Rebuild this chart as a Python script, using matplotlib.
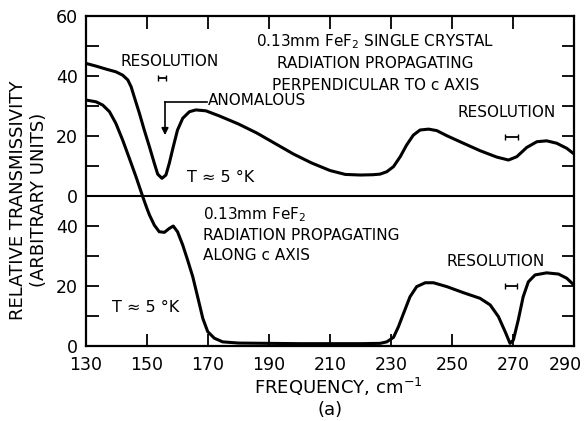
import numpy as np
import matplotlib.pyplot as plt
import matplotlib.transforms as mtransforms

plt.rcParams['font.family'] = ['DejaVu Sans']

# perpendicular to c axis (upper panel, its own units)
f_perp = [130, 133.3, 136.6, 139.8, 142, 143.7, 144.8, 145.8, 147.5, 149.1,
          150.8, 152.4, 153.5, 154.9, 156.2, 157.3, 158.6, 160, 161.7, 163.9,
          166, 169.3, 173.7, 180, 186, 192, 198, 204, 210, 215, 220, 224,
          226.4, 228.6, 230.8, 233, 235.1, 237.3, 239.5, 242.3, 245, 248.3,
          253.7, 259.2, 264.6, 268.5, 271.2, 274.5, 277.8, 281, 284.3, 287.6,
          290]
t_perp = [44.2, 43.3, 42.3, 41.4, 40.3, 38.7, 36.4, 33.1, 27.6, 22,
          16.4, 10.9, 7.3, 5.9, 7, 10.9, 16.4, 22, 25.9, 28.1,
          28.7, 28.4, 26.7, 24, 21, 17.5, 14, 11, 8.5, 7.2, 7, 7.1,
          7.3, 8.1, 9.8, 13.1, 17, 20.3, 22, 22.3, 21.8, 20.1,
          17.6, 15.1, 13, 12, 13.1, 16.2, 18.1, 18.4, 17.6, 15.9,
          14]

# along c axis (lower panel, its own units)
f_par = [130, 133.3, 135.5, 137.7, 139.8, 142, 144.2, 146.4, 147.6, 148.8,
         150, 150.8, 152.4, 154, 155.7, 157.3, 158.6, 160, 161.7, 163.3, 165,
         166.6, 168.3, 169.9, 172.1, 174.8, 180, 200, 220, 226.4, 228.6,
         230.8, 232.4, 234.1, 236.2, 238.4, 241.2, 243.9, 248.3, 253.7, 259.2,
         262.5, 265.2, 267.4, 269, 270.1, 271.7, 273.3, 275, 277.2, 281,
         284.9, 287.6, 290]
t_par = [82, 81.4, 80.3, 78.1, 74.2, 68.7, 62.6, 56.4, 52.8, 49.2,
         45.8, 43.7, 40.3, 38.1, 37.9, 39.2, 40, 38.1, 33.7, 28.7, 23.1,
         16.4, 9.2, 4.8, 2.6, 1.4, 1, 0.8, 0.8, 0.9, 1.4,
         2.9, 6.4, 10.9, 16.4, 19.8, 21.1, 21.1, 19.8, 17.8, 15.9,
         13.7, 9.8, 4.8, 0.9, 2, 8.7, 16.4, 21.4, 23.7, 24.4,
         24, 22.6, 20.3]

offset = 50  # upper panel zero sits at 50 on the shared axis

fig = plt.figure(figsize=(5.87, 4.21), dpi=100)
ax = fig.add_axes([0.1465, 0.178, 0.8315, 0.784])

ax.plot(f_perp, np.array(t_perp) + offset, color='k', lw=2.2, solid_joinstyle='round')
ax.plot(f_par, t_par, color='k', lw=2.2, solid_joinstyle='round')
ax.axhline(offset, color='k', lw=1.5)

ax.set_xlim(130, 290)
ax.set_ylim(0, 110)
ax.set_xticks(np.arange(130, 291, 20))
ax.set_xticklabels([str(v) for v in range(130, 291, 20)])
yt = np.arange(0, 111, 10)
ylab = {0: '0', 20: '20', 40: '40', 50: '0', 70: '20', 90: '40', 110: '60'}
ax.set_yticks(yt)
ax.set_yticklabels([ylab.get(int(v), '') for v in yt])
ax.tick_params(direction='in', length=9, width=1.3, labelsize=12.5,
               top=True, right=True)
ax.tick_params(axis='x', pad=7)
ax.tick_params(axis='y', pad=6)
for s in ax.spines.values():
    s.set_linewidth(1.6)

# last x label sits a bit left so it stays inside the figure
last = ax.get_xticklabels()[-1]
last.set_transform(last.get_transform() +
                   mtransforms.ScaledTranslation(-6 / 72, 0, fig.dpi_scale_trans))

# annotations, upper panel
ax.text(157.5, 94.7, 'RESOLUTION', fontsize=11, ha='center', va='center')
ax.errorbar(154.9, 89.3, xerr=1.2, fmt='none', ecolor='k', capsize=2.5, lw=1.3)
ax.text(224.8, 101.3, '0.13mm FeF$_2$ SINGLE CRYSTAL', fontsize=11, ha='center', va='center')
ax.text(224.8, 94.3, 'RADIATION PROPAGATING', fontsize=11, ha='center', va='center')
ax.text(224.8, 87.0, 'PERPENDICULAR TO c AXIS', fontsize=11, ha='center', va='center')
ax.text(170, 82, 'ANOMALOUS', fontsize=11, ha='left', va='center')
ax.plot([155.9, 169.7], [81.4, 81.4], color='k', lw=1.2)
ax.annotate('', xy=(155.9, 70.3), xytext=(155.9, 81.4),
            arrowprops=dict(arrowstyle='-|>', lw=1.2, color='k', shrinkA=0, shrinkB=0))
ax.text(174, 56.3, 'T ≈ 5 °K', fontsize=11.5, ha='center', va='center')
ax.text(268, 77.7, 'RESOLUTION', fontsize=11, ha='center', va='center')
ax.errorbar(269.5, 69.7, xerr=2.0, fmt='none', ecolor='k', capsize=2.5, lw=1.3)

# annotations, lower panel
ax.text(168.5, 43.7, '0.13mm FeF$_2$', fontsize=11, ha='left', va='center')
ax.text(168.5, 37.0, 'RADIATION PROPAGATING', fontsize=11, ha='left', va='center')
ax.text(168.5, 30.3, 'ALONG c AXIS', fontsize=11, ha='left', va='center')
ax.text(149.7, 12.7, 'T ≈ 5 °K', fontsize=11.5, ha='center', va='center')
ax.text(264.4, 28.3, 'RESOLUTION', fontsize=11, ha='center', va='center')
ax.errorbar(269.3, 20, xerr=2.0, fmt='none', ecolor='k', capsize=2.5, lw=1.3)

fig.text(0.048, 0.525, 'RELATIVE TRANSMISSIVITY\n(ARBITRARY UNITS)', rotation=90,
         fontsize=13, ha='center', va='center', multialignment='center')
fig.text(338 / 587, 1 - 387 / 421, 'FREQUENCY, cm$^{-1}$', fontsize=13, ha='center', va='center')
fig.text(330 / 587, 1 - 410 / 421, '(a)', fontsize=13, ha='center', va='center')

fig.savefig('out.png', dpi=100)
